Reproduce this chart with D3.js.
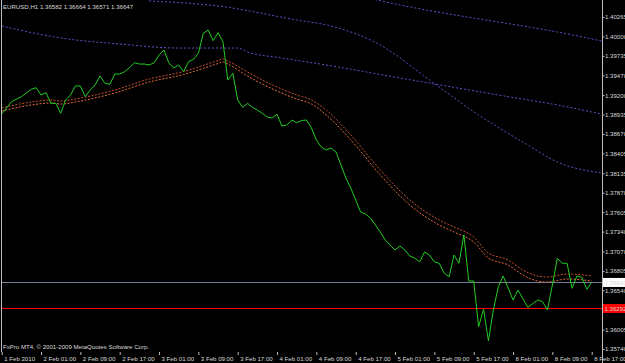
<!DOCTYPE html>
<html>
<head>
<meta charset="utf-8">
<script src="https://cdn.jsdelivr.net/npm/d3@7"></script>
<style>
    html, body { margin: 0; padding: 0; background: #000; }
    svg { display: block; }
    text { font-family: "Liberation Sans", Arial, sans-serif; font-size: 6.1px; fill: #d8d8d8; }
</style>
</head>
<body>
<script>
// ! DATA ! //
const symbolInfo = "EURUSD,H1  1.36582 1.36664 1.36571 1.36647";
const copyright = "FxPro MT4, \u00a9 2001-2009 MetaQuotes Software Corp.";

const timeLabels = ["1 Feb 2010", "2 Feb 01:00", "2 Feb 09:00", "2 Feb 17:00", "3 Feb 01:00", "3 Feb 09:00", "3 Feb 17:00", "4 Feb 01:00",
    "4 Feb 09:00", "4 Feb 17:00", "5 Feb 01:00", "5 Feb 09:00", "5 Feb 17:00", "8 Feb 01:00", "8 Feb 09:00", "8 Feb 17:00"];
const priceTicks = [1.40265, 1.40000, 1.39735, 1.39470, 1.39200, 1.38935, 1.38670, 1.38405, 1.38135,
    1.37870, 1.37605, 1.37340, 1.37070, 1.36805, 1.36540, 1.36275, 1.36005, 1.35740];

const lastPrice = 1.36647;
const levelPrice = 1.36292;

// [bar, close]
const closes = [
    [0, 1.38943], [2, 1.39111], [4, 1.39179], [5, 1.39229], [6, 1.39280], [7, 1.39301], [8, 1.39202], [9, 1.39233],
    [10, 1.39089], [11, 1.39089], [12, 1.38952], [13, 1.39134], [14, 1.39202], [15, 1.39325], [16, 1.39325], [17, 1.39179],
    [18, 1.39270], [19, 1.39338], [20, 1.39461], [21, 1.39361], [22, 1.39348], [23, 1.39488], [24, 1.39488], [25, 1.39519],
    [26, 1.39574], [27, 1.39642], [28, 1.39624], [29, 1.39624], [30, 1.39611], [31, 1.39642], [32, 1.39747], [33, 1.39815],
    [34, 1.39638], [35, 1.39570], [36, 1.39611], [37, 1.39519], [38, 1.39656], [39, 1.39688], [40, 1.39770], [41, 1.40043],
    [42, 1.40088], [43, 1.39942], [44, 1.40051], [45, 1.39928], [46, 1.39406], [47, 1.39498], [48, 1.39134], [49, 1.39034],
    [50, 1.39089], [51, 1.39034], [52, 1.38997], [53, 1.38952], [54, 1.38902], [55, 1.38888], [56, 1.38939], [57, 1.38779],
    [58, 1.38793], [59, 1.38861], [60, 1.38824], [61, 1.38854], [62, 1.38861], [63, 1.38752], [64, 1.38589], [65, 1.38493],
    [66, 1.38452], [67, 1.38480], [68, 1.38425], [69, 1.38248], [70, 1.38071], [71, 1.37934], [72, 1.37771], [73, 1.37607],
    [74, 1.37580], [75, 1.37525], [76, 1.37430], [77, 1.37335], [78, 1.37226], [79, 1.37157], [80, 1.37089], [81, 1.37144],
    [82, 1.37089], [83, 1.37007], [84, 1.36980], [85, 1.36926], [86, 1.37062], [87, 1.37021], [88, 1.36926], [89, 1.36908],
    [90, 1.36772], [91, 1.36725], [92, 1.37021], [93, 1.36908], [94, 1.37294], [95, 1.36667], [96, 1.36667], [97, 1.36044],
    [98, 1.36281], [99, 1.35853], [100, 1.36271], [101, 1.36589], [102, 1.36735], [104, 1.36408], [105, 1.36544], [107, 1.36308],
    [109, 1.36408], [110, 1.36385], [111, 1.36271], [112, 1.36612], [113, 1.36976], [114, 1.36908], [115, 1.36908], [116, 1.36567],
    [117, 1.36735], [118, 1.36717], [119, 1.36554], [120, 1.36647]
];

// moving average pair (dotted)
const maUpper = [
    [0, 1.39025], [6, 1.39106], [10, 1.39134], [12, 1.39120], [16, 1.39161], [23, 1.39270], [30, 1.39420], [37, 1.39522],
    [44, 1.39672], [45, 1.39693], [46, 1.39665], [50, 1.39515], [53, 1.39406], [56, 1.39311], [60, 1.39202], [63, 1.39134],
    [66, 1.38997], [71, 1.38657], [77, 1.38180], [83, 1.37771], [89, 1.37498], [92, 1.37403], [96, 1.37266], [99, 1.37048],
    [103, 1.36953], [106, 1.36817], [109, 1.36735], [111, 1.36721], [115, 1.36762], [120, 1.36735]
];
const maLower = [
    [0, 1.38984], [6, 1.39065], [10, 1.39093], [12, 1.39079], [16, 1.39120], [23, 1.39229], [30, 1.39379], [37, 1.39481],
    [44, 1.39631], [45, 1.39652], [46, 1.39624], [50, 1.39461], [53, 1.39352], [56, 1.39256], [60, 1.39147], [63, 1.39079],
    [66, 1.38930], [71, 1.38590], [77, 1.38112], [83, 1.37703], [89, 1.37430], [92, 1.37335], [96, 1.37198], [99, 1.36980],
    [103, 1.36885], [106, 1.36749], [109, 1.36667], [111, 1.36653], [115, 1.36694], [120, 1.36667]
];

// slow bands (dotted)
const bandHigh = [[72, 1.40565], [81, 1.40429], [91, 1.40306], [101, 1.40197], [113, 1.40061], [122, 1.39938]];
const bandMid = [[0, 1.40142], [12, 1.39979], [24, 1.39897], [36, 1.39842], [48, 1.39842], [50, 1.39788], [57, 1.39706],
    [66, 1.39611], [81, 1.39434], [101, 1.39202], [113, 1.39066], [122, 1.38943]];
const bandFast = [[30, 1.40483], [44, 1.40415], [60, 1.40224], [67, 1.40142], [77, 1.39883], [87, 1.39406], [97, 1.38929],
    [107, 1.38520], [113, 1.38289], [122, 1.38139]];

// ! LAYOUT ! //
const width = 625;
const height = 363;
const plot = { left: 2, right: 602, top: 0, bottom: 352 };

const svg = d3.select("body").append("svg").attr("width", width).attr("height", height);
svg.append("rect").attr("width", width).attr("height", height).attr("fill", "#000");

const xScale = d3.scaleLinear().domain([0, 120]).range([1.7, 591.7]);
const yScale = d3.scaleLinear().domain([1.35740, 1.40265]).range([349, 17]);

svg.append("clipPath").attr("id", "plotclip").append("rect")
    .attr("x", plot.left).attr("y", plot.top).attr("width", plot.right - plot.left).attr("height", plot.bottom - plot.top);

const lineGen = d3.line().x((d) => xScale(d[0])).y((d) => yScale(d[1]));
const smoothGen = d3.line().x((d) => xScale(d[0])).y((d) => yScale(d[1])).curve(d3.curveMonotoneX);

const chart = svg.append("g").attr("clip-path", "url(#plotclip)");

// ^ bands ^ //
[bandHigh, bandMid, bandFast].forEach((band) => {
    chart.append("path").datum(band).attr("d", smoothGen)
        .attr("fill", "none").attr("stroke", "#5a52c8").attr("stroke-width", 1).attr("stroke-dasharray", "2,2");
});

// ^ horizontal levels ^ //
const yLast = Math.round(yScale(lastPrice)) + 0.5;
const yLevel = Math.round(yScale(levelPrice)) + 0.5;
chart.append("line").attr("x1", plot.left).attr("x2", plot.right).attr("y1", yLast).attr("y2", yLast)
    .attr("stroke", "#6f7f95").attr("stroke-width", 1);
chart.append("line").attr("x1", plot.left).attr("x2", plot.right).attr("y1", yLevel).attr("y2", yLevel)
    .attr("stroke", "#ff0000").attr("stroke-width", 1);

// ^ moving averages ^ //
chart.append("path").datum(maUpper).attr("d", smoothGen)
    .attr("fill", "none").attr("stroke", "#c8502a").attr("stroke-width", 1).attr("stroke-dasharray", "2,1.5");
chart.append("path").datum(maLower).attr("d", smoothGen)
    .attr("fill", "none").attr("stroke", "#e86a3a").attr("stroke-width", 1).attr("stroke-dasharray", "2,1.5");

// ^ close line ^ //
chart.append("path").datum(closes).attr("d", lineGen)
    .attr("fill", "none").attr("stroke", "#22cc22").attr("stroke-width", 1);

// ^ frame ^ //
svg.append("line").attr("x1", 1.5).attr("x2", 1.5).attr("y1", 0).attr("y2", plot.bottom).attr("stroke", "#bdbdbd");

// ^ price axis ^ //
const yAxis = svg.append("g").attr("transform", `translate(${plot.right + 0.5},0)`)
    .call(d3.axisRight(yScale).tickValues(priceTicks).tickSize(2).tickPadding(0.5).tickFormat(d3.format(".5f")));
yAxis.select(".domain").attr("stroke", "#bdbdbd").attr("d", `M0,0V${height}`);
yAxis.selectAll(".tick line").attr("stroke", "#bdbdbd");
yAxis.selectAll("text").attr("fill", "#d8d8d8").attr("font-size", "5.4px").attr("font-family", null);
// the level tag sits on top of this tick, as in the terminal
yAxis.selectAll(".tick").filter((d) => Math.abs(yScale(d) - yScale(levelPrice)) < 5).select("text").remove();

// ^ time axis ^ //
const xAxis = svg.append("g").attr("transform", `translate(0,${plot.bottom})`)
    .call(d3.axisBottom(xScale).tickValues(d3.range(0, 121, 8)).tickSize(3).tickFormat((d, i) => timeLabels[i]));
xAxis.select(".domain").remove();
xAxis.selectAll(".tick line").attr("stroke", "#bdbdbd");
xAxis.selectAll("text").attr("text-anchor", "start").attr("x", 2).attr("y", 5).attr("dy", "0.71em")
    .attr("fill", "#d8d8d8").attr("font-size", null).attr("font-family", null);

// ^ price labels ^ //
const tagLast = svg.append("g").attr("transform", `translate(${plot.right + 1},${yScale(lastPrice)})`);
tagLast.append("rect").attr("x", 0).attr("y", -4.5).attr("width", 23).attr("height", 9).attr("fill", "#ffffff");
tagLast.append("text").attr("x", 1.5).attr("dy", "0.35em").attr("font-size", "5.4px").attr("fill", "#000").text(lastPrice.toFixed(5));

const tagLevel = svg.append("g").attr("transform", `translate(${plot.right + 1},${yScale(levelPrice)})`);
tagLevel.append("rect").attr("x", 0).attr("y", -4.5).attr("width", 23).attr("height", 9).attr("fill", "#ff0000");
tagLevel.append("text").attr("x", 1.5).attr("dy", "0.35em").attr("font-size", "5.4px").attr("fill", "#2a0000").text(levelPrice.toFixed(5));

// ^ captions ^ //
svg.append("text").attr("x", 3).attr("y", 8.5).text(symbolInfo);
svg.append("text").attr("x", 3).attr("y", 349).text(copyright);
</script>
</body>
</html>
